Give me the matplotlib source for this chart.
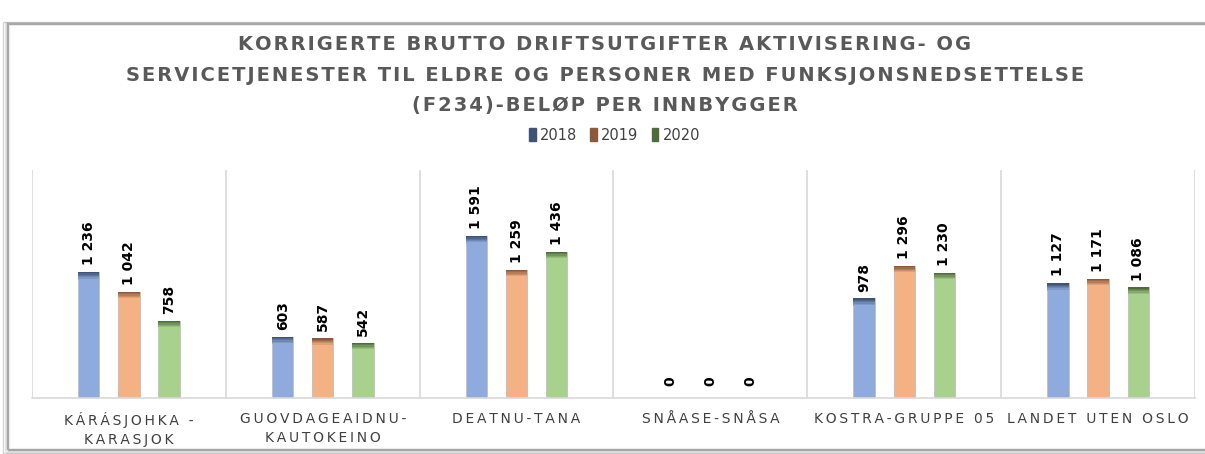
import numpy as np
import matplotlib.pyplot as plt
from matplotlib.colors import to_rgb
from matplotlib.patches import Rectangle
from matplotlib import font_manager

# Data
categories = ["KÁRÁSJOHKA -\nKARASJOK", "GUOVDAGEAIDNU-\nKAUTOKEINO", "DEATNU-TANA",
              "SNÅASE-SNÅSA", "KOSTRA-GRUPPE 05", "LANDET UTEN OSLO"]
years = ["2018", "2019", "2020"]
v2018 = [1236, 603, 1591, 0, 978, 1127]
v2019 = [1042, 587, 1259, 0, 1296, 1171]
v2020 = [758, 542, 1436, 0, 1230, 1086]

title = ("KORRIGERTE BRUTTO DRIFTSUTGIFTER AKTIVISERING- OG\n"
         "SERVICETJENESTER TIL ELDRE OG PERSONER MED FUNKSJONSNEDSETTELSE\n"
         "(F234)-BELØP PER INNBYGGER")

fill_colors = ["#8FAADC", "#F4B183", "#A9D18E"]
top_colors = ["#3F5475", "#8A5A3A", "#4E6B3A"]

# pick a narrow font for the title if one is around
installed = {f.name for f in font_manager.fontManager.ttflist}
title_font = "DejaVu Sans"
for name in ["Liberation Sans Narrow", "DejaVu Sans Condensed"]:
    if name in installed:
        title_font = name
        break


def spaced(text, sep="\u2009"):
    # mimic the wide letter spacing of the original labels
    return "\n".join(sep.join(line) for line in text.split("\n"))


fig = plt.figure(figsize=(12.05, 4.54), dpi=100)

# outer frame with a soft shadow
for k, a in enumerate([0.12, 0.2, 0.32]):
    fig.patches.append(Rectangle((8 / 1205 - k * 0.002, 0.008 - k * 0.003),
                                 1.0, 0.97 - 14 / 454 + k * 0.005,
                                 transform=fig.transFigure, fill=False,
                                 edgecolor="#7F7F7F", alpha=a, lw=3 - k))
fig.patches.append(Rectangle((8 / 1205, 0.008), 1.0, 0.97 - 14 / 454,
                             transform=fig.transFigure, fill=False,
                             edgecolor="#A6A6A6", lw=1.5))

ax = fig.add_axes([32 / 1205, 1 - 398 / 454, (1195 - 32) / 1205, (398 - 170) / 454])

x = np.arange(len(categories))
width = 0.11
offsets = [-0.207, 0.0, 0.207]
series = [v2018, v2019, v2020]
ymax = 2240
cap = 75

for vals, off, fc, tc in zip(series, offsets, fill_colors, top_colors):
    vals = np.array(vals, dtype=float)
    ax.bar(x + off, vals, width, color=fc, edgecolor="#BFBFBF", linewidth=0.6, zorder=2)
    # darker gradient band at the top of each bar
    steps = 6
    c0 = np.array(to_rgb(tc))
    c1 = np.array(to_rgb(fc))
    for s in range(steps):
        t = s / (steps - 1)
        col = c0 * (1 - t) + c1 * t
        h = np.minimum(vals, cap) / steps
        ax.bar(x + off, h, width, bottom=vals - h * (s + 1), color=col,
               linewidth=0, zorder=3)
    for xi, v in zip(x + off, vals):
        ax.annotate(f"{int(v):,}".replace(",", " "), (xi, v),
                    xytext=(0, 5 if v > 0 else 9),
                    textcoords="offset points", rotation=90, ha="center",
                    va="bottom", fontsize=10, fontweight="bold", color="black")

for b in np.arange(len(categories) + 1) - 0.5:
    ax.axvline(b, color="#D9D9D9", lw=1.2, zorder=1)

ax.set_xlim(-0.5, len(categories) - 0.5)
ax.set_ylim(0, ymax)
ax.set_yticks([])
ax.set_xticks(x)
ax.set_xticklabels([spaced(c) for c in categories], fontsize=10, color="#404040",
                   linespacing=1.45)
ax.tick_params(axis="x", length=0, pad=10)
for s in ["top", "left", "right"]:
    ax.spines[s].set_visible(False)
ax.spines["bottom"].set_color("#D9D9D9")
ax.spines["bottom"].set_linewidth(1.2)

tsep = "\u200a" if title_font == "DejaVu Sans" else "\u2009"
fig.text(0.502, 1 - 35 / 454, spaced(title, tsep), ha="center", va="top",
         fontsize=15 if title_font != "DejaVu Sans" else 14,
         fontweight="bold", color="#595959", linespacing=1.78, family=title_font)

handles = [Rectangle((0, 0), 1, 1, color=c) for c in top_colors]
fig.legend(handles, years, loc="center", bbox_to_anchor=(0.51, 1 - 135 / 454), ncol=3,
           frameon=False, fontsize=10.5, handlelength=0.45, handleheight=0.9,
           handletextpad=0.3, columnspacing=0.9, labelcolor="#404040")

fig.savefig("out.png", dpi=100)
